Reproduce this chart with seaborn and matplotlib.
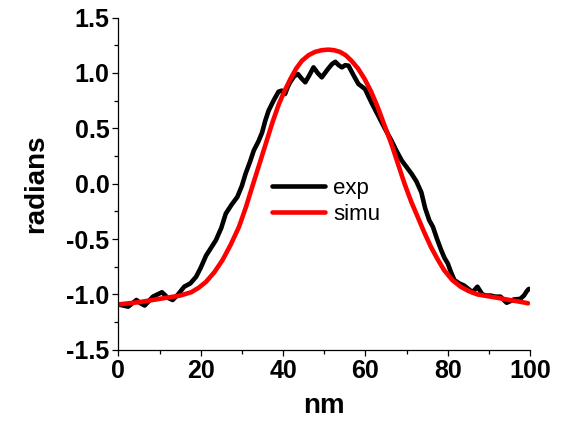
import numpy as np
import pandas as pd
import seaborn as sns
import matplotlib
matplotlib.use('Agg')
import matplotlib.pyplot as plt
from matplotlib.ticker import MultipleLocator

exp_nm = [0, 1.2, 2.4, 3.4, 4.4, 5.4, 6.4, 7.4, 8.4, 9.5, 10.6, 12, 13.2, 14.5, 16,
          17.5, 18.9, 20, 21.3, 22.5, 23.7, 25, 26.1, 27.5, 28.9, 30, 30.9, 32, 32.9,
          34, 34.9, 35.7, 36.5, 37.7, 38.9, 39.7, 40.5, 41.1, 41.7, 42.7, 43.6, 44.5,
          45.4, 46.4, 47.4, 48.4, 49.4, 50.2, 51, 51.9, 52.7, 53.5, 54.3, 55.1, 55.9,
          57.1, 58.3, 59.9, 61.5, 63.1, 64.7, 66.3, 67.5, 68.8, 70, 71.2, 72.4, 73.6,
          74.5, 75.5, 76.4, 77.4, 78.4, 79.2, 80, 80.8, 81.6, 82.8, 84, 85, 86, 87.2,
          88.4, 89.4, 90.4, 91.6, 92.8, 93.6, 94.3, 95.2, 96.1, 97.6, 98.5, 99.2, 99.7]
exp_rad = [-1.09, -1.10, -1.11, -1.08, -1.05, -1.08, -1.10, -1.06, -1.02, -1.00, -0.98,
           -1.03, -1.05, -1.00, -0.93, -0.90, -0.84, -0.76, -0.65, -0.58, -0.51, -0.40,
           -0.27, -0.19, -0.12, -0.02, 0.09, 0.20, 0.30, 0.38, 0.46, 0.57, 0.66, 0.75,
           0.83, 0.84, 0.81, 0.87, 0.915, 0.97, 0.99, 0.95, 0.915, 0.98, 1.05, 1.00,
           0.96, 1.00, 1.04, 1.08, 1.10, 1.07, 1.05, 1.07, 1.065, 0.98, 0.90, 0.855,
           0.73, 0.615, 0.50, 0.39, 0.30, 0.21, 0.15, 0.09, 0.02, -0.08, -0.22, -0.33,
           -0.39, -0.50, -0.60, -0.67, -0.72, -0.80, -0.87, -0.90, -0.92, -0.95, -0.98,
           -0.93, -1.00, -1.01, -1.01, -1.02, -1.02, -1.05, -1.075, -1.06, -1.045,
           -1.04, -1.01, -0.97, -0.95]

# simulated profile
simu_nm = [0, 5, 10, 15, 17.7, 19.5, 21.3, 23.3, 25.3, 27.3, 29.3, 31, 32.5, 34.2,
           35.8, 37.4, 39, 40.4, 41.8, 43.2, 44.6, 46.2, 47.8, 49.4, 51, 52.4, 53.8,
           55.2, 56.6, 58.2, 59.8, 61.4, 63, 64.6, 66.3, 67.9, 69.5, 71.1, 72.7, 74.3,
           75.9, 77.5, 79.1, 81.1, 83.1, 85.1, 87.2, 92, 95, 98.2, 99.5]
simu_rad = [-1.09, -1.07, -1.04, -1.01, -0.98, -0.94, -0.886, -0.80, -0.69, -0.55,
            -0.39, -0.21, -0.03, 0.17, 0.36, 0.55, 0.72, 0.84, 0.946, 1.04, 1.11, 1.16,
            1.19, 1.205, 1.21, 1.205, 1.19, 1.16, 1.11, 1.04, 0.946, 0.83, 0.69, 0.53,
            0.36, 0.18, 0.0, -0.16, -0.30, -0.44, -0.57, -0.68, -0.78, -0.87, -0.93,
            -0.97, -1.0, -1.03, -1.05, -1.07, -1.08]

df = pd.concat([
    pd.DataFrame({'nm': exp_nm, 'radians': exp_rad, 'series': 'exp'}),
    pd.DataFrame({'nm': simu_nm, 'radians': simu_rad, 'series': 'simu'}),
])

sns.set_style('ticks', {'axes.edgecolor': 'black', 'text.color': 'black',
                        'xtick.color': 'black', 'ytick.color': 'black',
                        'axes.labelcolor': 'black'})
plt.rcParams['font.family'] = ['Liberation Sans', 'DejaVu Sans']

fig = plt.figure(figsize=(5.8, 4.22), dpi=100)
ax = fig.add_axes([0.204, 0.171, 0.710, 0.7875])

sns.lineplot(data=df, x='nm', y='radians', hue='series',
             palette={'exp': 'black', 'simu': '#ff0000'},
             estimator=None, sort=False, linewidth=3.3, ax=ax)

ax.set_xlim(0, 100)
ax.set_ylim(-1.5, 1.5)
ax.xaxis.set_major_locator(MultipleLocator(20))
ax.xaxis.set_minor_locator(MultipleLocator(10))
ax.yaxis.set_major_locator(MultipleLocator(0.5))
ax.yaxis.set_minor_locator(MultipleLocator(0.25))
ax.yaxis.set_major_formatter(matplotlib.ticker.FormatStrFormatter('%.1f'))

ax.tick_params(which='major', direction='out', length=4.5, width=0.9,
               labelsize=18, pad=2, colors='black')
ax.tick_params(which='minor', direction='out', length=3, width=0.9, colors='black')
for lbl in ax.get_xticklabels() + ax.get_yticklabels():
    lbl.set_fontweight('bold')

for side in ['top', 'right']:
    ax.spines[side].set_visible(False)
for side in ['left', 'bottom']:
    ax.spines[side].set_linewidth(0.9)
    ax.spines[side].set_color('black')

ax.set_xlabel('nm', fontsize=20, fontweight='bold', labelpad=7, color='black')
ax.set_ylabel('radians', fontsize=20, fontweight='bold', labelpad=12, color='black')

ax.legend(title=None, frameon=False, loc='center left',
          bbox_to_anchor=(0.373, 0.447), borderaxespad=0, borderpad=0,
          fontsize=16, handlelength=2.4, handletextpad=0.35, labelspacing=0.2)

fig.savefig('out.png', dpi=100)
